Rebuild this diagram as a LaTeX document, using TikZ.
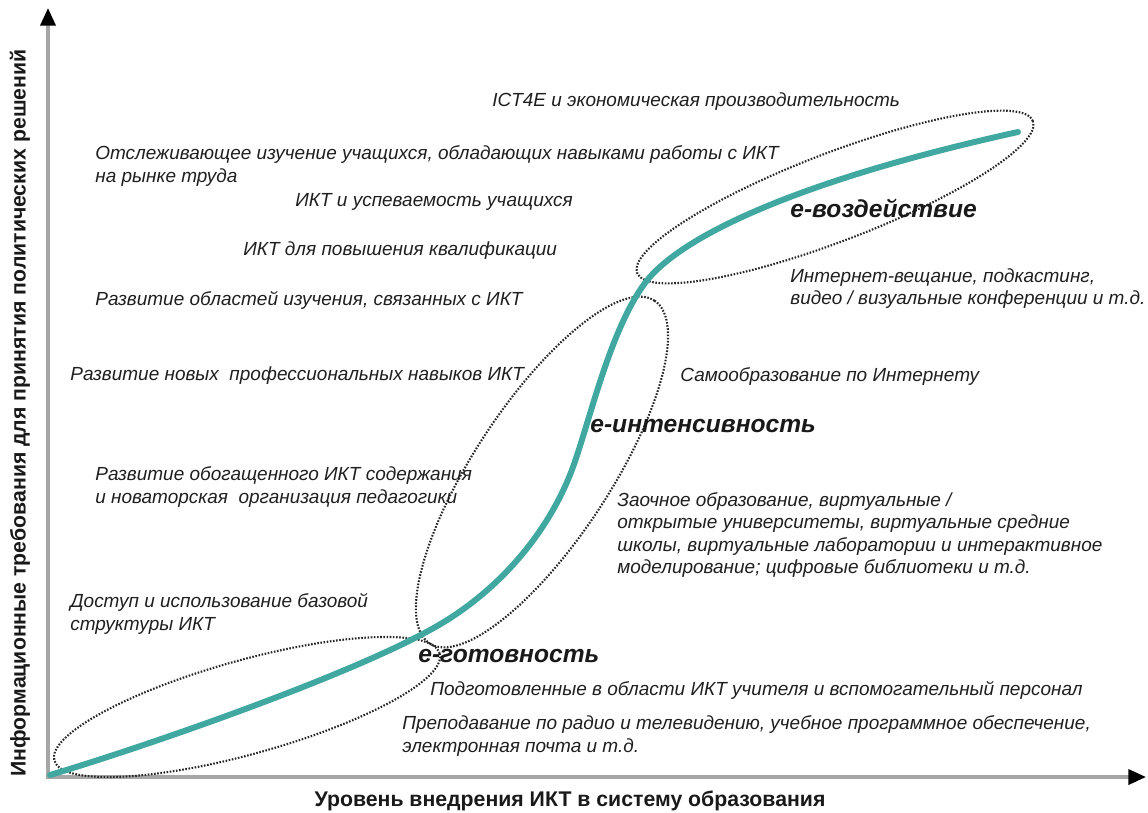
\documentclass[tikz,border=0pt]{standalone}
\usepackage{fontspec}
\setmainfont{Liberation Sans}
\usetikzlibrary{arrows.meta}
\definecolor{tealc}{RGB}{64,168,160}
\begin{document}
\begin{tikzpicture}[x=0.02cm,y=-0.02cm,
  txt/.style={font=\fontsize{10.8}{12.6}\selectfont\itshape, text=black!88, anchor=west, align=left, inner sep=0pt},
  big/.style={font=\fontsize{14}{16}\selectfont\bfseries\itshape, text=black!90, anchor=west, inner sep=0pt},
  axlab/.style={font=\fontsize{12.1}{14}\selectfont\bfseries, text=black!90, inner sep=0pt},
  axisline/.style={draw=gray!70, line width=2pt, -{Triangle[length=10pt,width=8.5pt,color=black]}},
  ell/.style={draw=black!85, line width=1.2pt, dash pattern=on 0.9pt off 0.9pt},
  scurve/.style={draw=tealc, line width=3.4pt, line cap=round}]
\useasboundingbox (0,0) rectangle (1148,812);

% axes
\coordinate (O) at (48,777);
\coordinate (Ytop) at (48,8);
\coordinate (Xend) at (1146,777);
\draw[axisline] ([yshift=1pt]O) -- (Ytop);
\draw[axisline] ([xshift=-1pt]O) -- (Xend);

% ellipses
\coordinate (e1) at (247,707);
\coordinate (e2) at (542,472);
\coordinate (e3) at (835,197);
\draw[ell, rotate around={15.5:(e1)}] (e1) ellipse [x radius=4cm, y radius=0.94cm];
\draw[ell, rotate around={56.7:(e2)}] (e2) ellipse [x radius=4.1cm, y radius=1.36cm];
\draw[ell, rotate around={21:(e3)}] (e3) ellipse [x radius=4.24cm, y radius=0.88cm];

% curve
\coordinate (c0) at (50,775);
\coordinate (c1) at (430,630);
\coordinate (c2) at (573,467);
\coordinate (c3) at (645,283);
\coordinate (c4) at (1018,132);
\draw[scurve] (c0) .. controls (150,745) and (345,677) .. (c1)
  .. controls (500,592) and (550,530) .. (c2)
  .. controls (590,420) and (610,330) .. (c3)
  .. controls (680,236) and (800,180) .. (c4);

% axis labels
\node[axlab, rotate=90] (ylab) at (20,413) {Информационные требования для принятия политических решений};
\node[axlab] (xlab) at (570,801) {Уровень внедрения ИКТ в систему образования};

% texts
\node[txt] (t1) at (492,102) {ICT4E и экономическая производительность};
\node[txt] (t2) at (95,166) {Отслеживающее изучение учащихся, обладающих навыками работы с ИКТ\\на рынке труда};
\node[txt] (t3) at (295,202) {ИКТ и успеваемость учащихся};
\node[txt] (t4) at (243,251) {ИКТ для повышения квалификации};
\node[txt] (t5) at (95,300) {Развитие областей изучения, связанных с ИКТ};
\node[txt] (t6) at (70,376) {Развитие новых\ \ профессиональных навыков ИКТ};
\node[txt] (t7) at (95,487) {Развитие обогащенного ИКТ содержания\\и новаторская\ \ организация педагогики};
\node[txt] (t8) at (70,614) {Доступ и использование базовой\\структуры ИКТ};
\node[big] (b1) at (418,656) {e-готовность};
\node[txt] (t9) at (430,690) {Подготовленные в области ИКТ учителя и вспомогательный персонал};
\node[txt] (t10) at (402,736) {Преподавание по радио и телевидению, учебное программное обеспечение,\\электронная почта и т.д.};
\node[big] (b2) at (590,426) {e-интенсивность};
\node[txt] (t11) at (680,376) {Самообразование по Интернету};
\node[txt] (t12) at (617,535) {Заочное образование, виртуальные /\\открытые университеты, виртуальные средние\\школы, виртуальные лаборатории и интерактивное\\моделирование; цифровые библиотеки и т.д.};
\node[big] (b3) at (790,208) {e-воздействие};
\node[txt] (t13) at (790,289) {Интернет-вещание, подкастинг,\\видео / визуальные конференции и т.д.};
\end{tikzpicture}
\end{document}
